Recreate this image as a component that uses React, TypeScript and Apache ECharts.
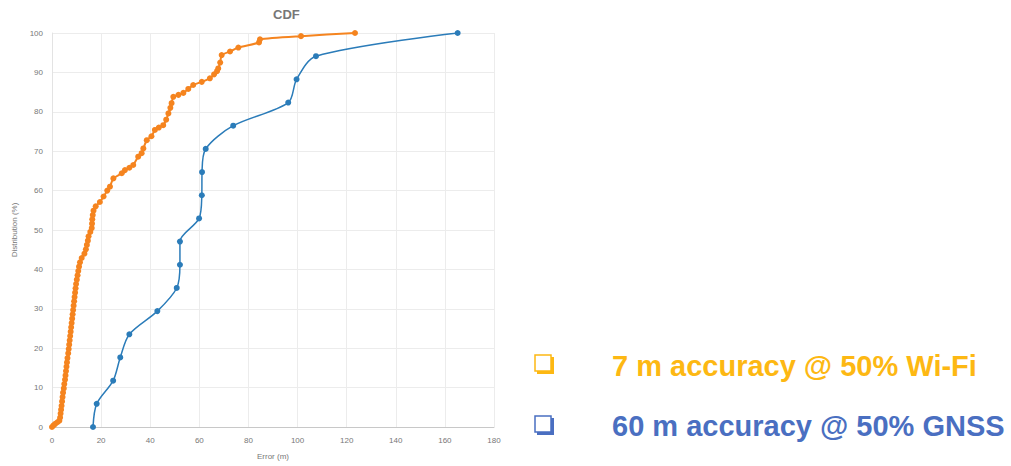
import React, { useEffect, useRef } from "react";
import * as echarts from "echarts";

const xTicks = [0, 20, 40, 60, 80, 100, 120, 140, 160, 180];
const yTicks = [0, 10, 20, 30, 40, 50, 60, 70, 80, 90, 100];

const wifiError = [
  0, 0.6, 1.3, 2.2, 3.0, 3.3, 3.5, 3.7, 3.9, 4.1, 4.3, 4.5, 4.8, 5.0, 5.3, 5.5, 5.7, 5.9, 6.1, 6.3,
  6.6, 6.8, 7.0, 7.2, 7.4, 7.6, 7.8, 8.0, 8.2, 8.4, 8.6, 8.8, 9.0, 9.2, 9.4, 9.6, 9.8, 10.1, 10.4,
  10.7, 11.0, 11.4, 12.1, 13.2, 13.8, 14.2, 14.6, 14.9, 15.6, 16.2, 16.3, 16.4, 16.6, 16.9, 17.8,
  19.5, 21, 22.5, 23.6, 25, 28.4, 29.7, 31.5, 33.1, 35.1, 36.5, 37.2, 38.6, 40.5, 41.9, 43.5, 45.3,
  46.5, 47.4, 48.2, 48.7, 49.4, 51.5, 53.5, 55.5, 57.5, 61, 64.3, 66, 67.2, 67.7, 68.5, 69.1, 72.5,
  75.9, 84.3, 84.7, 101.4, 123.4,
];
const wifiDist = [
  0, 0.4, 0.8, 1.2, 1.6, 2.4, 3.4, 4.4, 5.4, 6.5, 7.6, 8.7, 9.8, 10.9, 12, 13.1, 14.2, 15.3, 16.4,
  17.5, 18.7, 19.8, 20.9, 22, 23.1, 24.2, 25.3, 26.4, 27.5, 28.6, 29.7, 30.8, 31.9, 33, 34.1, 35.2,
  36.3, 37.4, 38.5, 39.6, 40.7, 41.8, 42.9, 44, 45.1, 46.2, 47.3, 48.4, 49.5, 50.5, 51.6, 52.7, 53.8,
  54.9, 56, 57.1, 58.5, 60, 61, 63.1, 64.4, 65.2, 65.8, 66.5, 68.6, 69.5, 70.7, 72.8, 73.8, 75.4, 76,
  76.6, 78, 79.6, 81, 82.2, 83.8, 84.3, 84.8, 85.8, 86.8, 87.6, 88.5, 89.5, 90.3, 91, 92.5, 94.4,
  95.3, 96.3, 97.6, 98.4, 99.2, 100,
];

const gnssError = [
  16.7, 18.2, 24.9, 27.8, 31.5, 42.9, 50.8, 52.1, 52.1, 59.9, 61, 61.1, 62.6, 73.8, 96.2, 99.6,
  107.5, 165.2,
];
const gnssDist = [
  0, 5.88, 11.76, 17.65, 23.53, 29.41, 35.29, 41.18, 47.06, 52.94, 58.82, 64.71, 70.59, 76.47,
  82.35, 88.24, 94.12, 100,
];

const titleText = "CDF";
const xName = "Error (m)";
const yName = "Distribution (%)";
const note1 = "7 m accuracy @ 50% Wi-Fi";
const note2 = "60 m accuracy @ 50% GNSS";

const ORANGE = "#f5841f";
const BLUE = "#2b7cb9";
const GOLD = "#fdb813";
const NAVY = "#4a6fc1";

function box(x: number, y: number, color: string) {
  return [
    { type: "rect", shape: { x: x + 2, y: y + 2, width: 17, height: 17 }, style: { fill: color } },
    {
      type: "rect",
      shape: { x, y, width: 16, height: 16 },
      style: { fill: "#fff", stroke: color, lineWidth: 1.5 },
    },
  ];
}

export default function App() {
  const ref = useRef<HTMLDivElement>(null);
  useEffect(() => {
    if (!ref.current) return;
    const chart = echarts.init(ref.current, undefined, { renderer: "svg" });
    const axisLabel = { color: "#777", fontSize: 8, fontFamily: "Liberation Sans" };
    chart.setOption({
      animation: false,
      backgroundColor: "#fff",
      grid: { left: 52, right: 517, top: 33, bottom: 39, containLabel: false },
      xAxis: {
        type: "value",
        min: 0,
        max: 180,
        interval: 20,
        name: xName,
        nameLocation: "middle",
        nameGap: 25,
        nameTextStyle: { color: "#777", fontSize: 8, fontFamily: "Liberation Sans" },
        axisLine: { show: true, lineStyle: { color: "#c8c8c8", width: 1 } },
        axisTick: { show: false },
        axisLabel: { ...axisLabel, margin: 9, formatter: (v: number) => (xTicks.includes(v) ? String(v) : "") },
        splitLine: { show: true, lineStyle: { color: "#ececec", width: 1 } },
      },
      yAxis: {
        type: "value",
        min: 0,
        max: 100,
        interval: 10,
        name: yName,
        nameLocation: "middle",
        nameGap: 34,
        nameTextStyle: { color: "#777", fontSize: 8, fontFamily: "Liberation Sans" },
        axisLine: { show: true, lineStyle: { color: "#e3e3e3", width: 1 } },
        axisTick: { show: false },
        axisLabel: { ...axisLabel, margin: 9, formatter: (v: number) => (yTicks.includes(v) ? String(v) : "") },
        splitLine: { show: true, lineStyle: { color: "#ececec", width: 1 } },
      },
      series: [
        {
          type: "line",
          name: "GNSS",
          data: gnssError.map((x, i) => [x, gnssDist[i]]),
          smooth: 0.3,
          symbol: "circle",
          symbolSize: 6,
          lineStyle: { color: BLUE, width: 1.5 },
          itemStyle: { color: BLUE },
        },
        {
          type: "line",
          name: "Wi-Fi",
          data: wifiError.map((x, i) => [x, wifiDist[i]]),
          smooth: 0.2,
          symbol: "circle",
          symbolSize: 6,
          lineStyle: { color: ORANGE, width: 2 },
          itemStyle: { color: ORANGE },
        },
      ],
      graphic: [
        {
          type: "text",
          left: 287 - 14,
          top: 8,
          style: {
            text: titleText,
            fill: "#777",
            font: "bold 13px 'Liberation Sans'",
          },
        },
        ...box(535, 355, GOLD),
        ...box(535, 416, NAVY),
        {
          type: "text",
          x: 612,
          y: 366,
          style: {
            text: note1,
            fill: GOLD,
            font: "bold 29px 'Liberation Sans'",
            verticalAlign: "middle",
          },
        },
        {
          type: "text",
          x: 612,
          y: 426,
          style: {
            text: note2,
            fill: NAVY,
            font: "bold 29px 'Liberation Sans'",
            verticalAlign: "middle",
          },
        },
      ],
    });
    return () => chart.dispose();
  }, []);
  return (
    <div
      ref={ref}
      style={{ position: "fixed", left: 0, top: 0, width: 1011, height: 466, background: "#fff" }}
    />
  );
}
